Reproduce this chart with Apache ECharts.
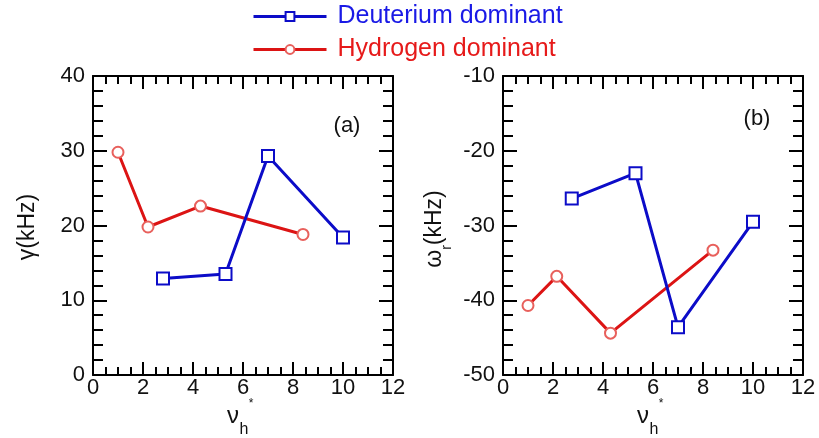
<!DOCTYPE html>
<html>
<head>
<meta charset="utf-8">
<script src="https://cdn.jsdelivr.net/npm/echarts@6/dist/echarts.min.js"></script>
<style>
  html, body { margin: 0; padding: 0; background: #fff; }
  #chart { width: 819px; height: 438px; }
</style>
</head>
<body>
<div id="chart"></div>
<script>
// data
var seriesNames = ['Deuterium dominant', 'Hydrogen dominant'];
var nuTicks = [0, 2, 4, 6, 8, 10, 12];
var gammaTicks = [0, 10, 20, 30, 40];
var omegaTicks = [-50, -40, -30, -20, -10];

// panel (a): growth rate
var deutNuA = [2.8, 5.3, 7.0, 10.0];
var deutGamma = [12.9, 13.5, 29.3, 18.4];
var hydNuA = [1.0, 2.2, 4.3, 8.4];
var hydGamma = [29.8, 19.8, 22.6, 18.8];

// panel (b): real frequency
var deutNuB = [2.75, 5.3, 7.0, 10.0];
var deutOmega = [-26.4, -23.0, -43.6, -29.5];
var hydNuB = [1.0, 2.15, 4.3, 8.4];
var hydOmega = [-40.7, -36.8, -44.4, -33.3];

var FONT = '"Liberation Sans", Arial, sans-serif';
var BLUE = '#0c0cc8';
var RED = '#dc1414';
var RED_MARK = '#e8605c';

function pairs(xs, ys) {
  return xs.map(function (x, i) { return [x, ys[i]]; });
}

function makeX(grid, pos) {
  return {
    type: 'value', gridIndex: grid, position: pos,
    min: nuTicks[0], max: nuTicks[nuTicks.length - 1], interval: nuTicks[1] - nuTicks[0],
    axisLine: { show: true, onZero: false, lineStyle: { color: '#000', width: 2 } },
    axisTick: { show: true, inside: true, length: 13, lineStyle: { color: '#000', width: 2 } },
    minorTick: { show: true, splitNumber: 4, length: 8, lineStyle: { color: '#000', width: 2 } },
    splitLine: { show: false },
    axisLabel: { show: pos === 'bottom', margin: 2, fontSize: 22, color: '#111', fontFamily: FONT }
  };
}

function makeY(grid, pos, ticks) {
  return {
    type: 'value', gridIndex: grid, position: pos,
    min: ticks[0], max: ticks[ticks.length - 1], interval: ticks[1] - ticks[0],
    axisLine: { show: true, onZero: false, lineStyle: { color: '#000', width: 2 } },
    axisTick: { show: true, inside: true, length: 14, lineStyle: { color: '#000', width: 2 } },
    minorTick: { show: true, splitNumber: 5, length: 10, lineStyle: { color: '#000', width: 2 } },
    splitLine: { show: false },
    axisLabel: { show: pos === 'left', margin: 8, fontSize: 22, color: '#111', fontFamily: FONT }
  };
}

function deutSeries(xi, yi, data) {
  return {
    name: seriesNames[0], type: 'line', xAxisIndex: xi, yAxisIndex: yi,
    data: data, symbol: 'emptyRect', symbolSize: 12,
    lineStyle: { color: BLUE, width: 3 },
    itemStyle: { color: BLUE, borderWidth: 2 },
    z: 3
  };
}

function hydSeries(xi, yi, data) {
  return {
    name: seriesNames[1], type: 'line', xAxisIndex: xi, yAxisIndex: yi,
    data: data, symbol: 'emptyCircle', symbolSize: 11,
    lineStyle: { color: RED, width: 3 },
    itemStyle: { color: RED_MARK, borderWidth: 1.5 },
    z: 2
  };
}

var chart = echarts.init(document.getElementById('chart'));

var option = {
  animation: false,
  backgroundColor: '#fff',
  legend: {
    orient: 'vertical',
    left: 252,
    top: 4,
    padding: 0,
    itemWidth: 73,
    itemHeight: 11,
    itemGap: 8,
    lineStyle: { width: 3 },
    itemStyle: { borderWidth: 1.5 },
    textStyle: { fontSize: 25, lineHeight: 25, fontFamily: FONT, padding: [0, 0, 0, 6] },
    data: [
      { name: seriesNames[0], textStyle: { color: '#1a1ae6' } },
      { name: seriesNames[1], textStyle: { color: '#e61a1a' } }
    ]
  },
  grid: [
    { left: 93, top: 76, width: 300, height: 299 },
    { left: 503, top: 76, width: 300, height: 299 }
  ],
  xAxis: [makeX(0, 'bottom'), makeX(0, 'top'), makeX(1, 'bottom'), makeX(1, 'top')],
  yAxis: [makeY(0, 'left', gammaTicks), makeY(0, 'right', gammaTicks),
          makeY(1, 'left', omegaTicks), makeY(1, 'right', omegaTicks)],
  series: [
    deutSeries(0, 0, pairs(deutNuA, deutGamma)),
    hydSeries(0, 0, pairs(hydNuA, hydGamma)),
    deutSeries(2, 2, pairs(deutNuB, deutOmega)),
    hydSeries(2, 2, pairs(hydNuB, hydOmega))
  ],
  graphic: [
    { type: 'text', x: 347, y: 126, style: { text: '(a)', font: '22px ' + FONT, fill: '#111', align: 'center', verticalAlign: 'middle' } },
    { type: 'text', x: 757, y: 119, style: { text: '(b)', font: '22px ' + FONT, fill: '#111', align: 'center', verticalAlign: 'middle' } },
    // y axis names
    { type: 'text', x: 28, y: 227, rotation: Math.PI / 2,
      style: { text: 'γ(kHz)', font: '23px ' + FONT, fill: '#111', align: 'center', verticalAlign: 'middle' } },
    { type: 'text', x: 439, y: 229, rotation: Math.PI / 2,
      style: {
        text: '{a|ω}{s|r}{a|(kHz)}', align: 'center', verticalAlign: 'middle', fill: '#111',
        rich: {
          a: { fontSize: 23, fontFamily: FONT, fill: '#111', padding: [0, 0, 8, 0], verticalAlign: 'bottom' },
          s: { fontSize: 14, fontFamily: FONT, fill: '#111', verticalAlign: 'bottom' }
        }
      } },
    // x axis names
    { type: 'text', x: 233, y: 416, style: { text: 'ν', font: '24px ' + FONT, fill: '#111', align: 'center', verticalAlign: 'middle' } },
    { type: 'text', x: 251, y: 404, style: { text: '*', font: '12px ' + FONT, fill: '#111', align: 'center', verticalAlign: 'middle' } },
    { type: 'text', x: 244, y: 430, style: { text: 'h', font: '16px ' + FONT, fill: '#111', align: 'center', verticalAlign: 'middle' } },
    { type: 'text', x: 643, y: 416, style: { text: 'ν', font: '24px ' + FONT, fill: '#111', align: 'center', verticalAlign: 'middle' } },
    { type: 'text', x: 661, y: 404, style: { text: '*', font: '12px ' + FONT, fill: '#111', align: 'center', verticalAlign: 'middle' } },
    { type: 'text', x: 654, y: 430, style: { text: 'h', font: '16px ' + FONT, fill: '#111', align: 'center', verticalAlign: 'middle' } }
  ]
};

chart.setOption(option);
</script>
</body>
</html>
